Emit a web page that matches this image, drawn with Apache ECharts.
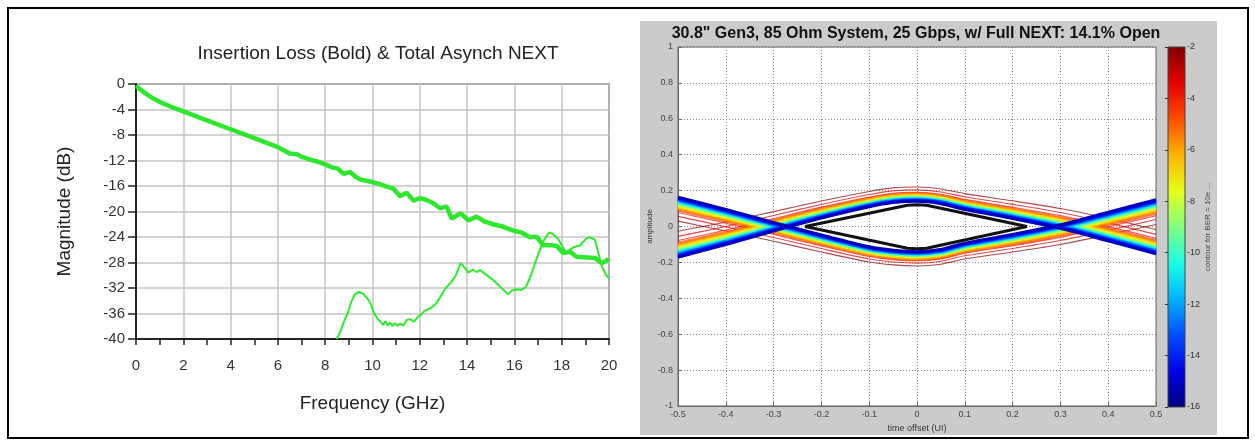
<!DOCTYPE html>
<html><head><meta charset="utf-8">
<script src="https://cdn.jsdelivr.net/npm/echarts@6/dist/echarts.min.js"></script>
<style>html,body{margin:0;padding:0;background:#fff}#c{width:1255px;height:445px}</style>
</head><body><div id="c"></div>
<script>
// ---------- Left chart data ----------
const ilFreq = [0,0.3,0.6,1.0,1.5,2.0,2.5,3.0,3.5,4.0,4.5,5.0,5.5,6.0,6.3,6.5,6.8,7.0,7.4,7.7,8.0,8.3,8.5,8.8,9.05,9.3,9.5,9.89,10.32,10.6,10.88,11.16,11.45,11.73,12.01,12.29,12.57,12.85,13.13,13.35,13.73,14.05,14.4,14.76,15.1,15.53,15.95,16.3,16.66,16.94,17.22,17.57,17.79,18.07,18.35,18.63,19.06,19.41,19.69,20.0];
const ilDb   = [-0.3,-1.2,-2.0,-2.8,-3.6,-4.3,-5.0,-5.7,-6.4,-7.1,-7.8,-8.5,-9.2,-9.9,-10.5,-10.9,-11.0,-11.4,-11.9,-12.2,-12.6,-13.1,-13.2,-14.1,-13.8,-14.6,-15.0,-15.3,-15.7,-16.1,-16.4,-17.6,-17.05,-18.3,-17.9,-18.2,-18.7,-19.5,-19.2,-21.1,-20.3,-21.4,-20.8,-21.6,-22.0,-22.4,-23.0,-23.3,-24.05,-23.95,-25.3,-25.3,-25.4,-26.5,-26.3,-27.1,-27.2,-27.3,-28.1,-27.5];
const nextFreq = [8.49,8.65,8.8,8.95,9.1,9.25,9.42,9.6,9.75,9.89,10.05,10.2,10.32,10.45,10.55,10.65,10.75,10.85,10.95,11.05,11.16,11.3,11.45,11.6,11.75,11.9,12.0,12.2,12.45,12.7,12.9,13.1,13.3,13.5,13.73,13.9,14.05,14.25,14.4,14.55,14.8,15.1,15.4,15.74,15.9,16.1,16.3,16.5,16.7,16.94,17.2,17.46,17.65,17.85,18.05,18.2,18.35,18.5,18.78,19.0,19.15,19.4,19.55,19.7,19.85,20.0];
const nextDb   = [-40,-38.8,-37.2,-36.0,-34.2,-33.0,-32.6,-32.9,-33.5,-34.2,-35.8,-36.8,-37.2,-37.8,-37.2,-37.9,-37.4,-38.0,-37.5,-37.9,-37.6,-37.9,-37.0,-36.9,-37.3,-36.6,-36.3,-35.6,-35.2,-34.4,-33.2,-32.0,-31.2,-30.2,-28.1,-28.8,-29.6,-29.1,-29.5,-29.2,-29.9,-30.75,-31.8,-33.0,-32.4,-32.2,-32.3,-31.8,-30.0,-27.4,-24.8,-23.3,-23.6,-24.3,-25.6,-26.5,-26.0,-25.6,-25.3,-24.4,-24.0,-24.4,-26.5,-28.6,-29.8,-30.5];

// ---------- Right chart (eye contour) data ----------
const eyeT      = [-0.5,-0.4,-0.3,-0.2,-0.1,-0.05,0,0.05,0.1,0.2,0.3,0.4,0.5];
const eyeTrajA  = [0.163,0.095,0.023,-0.047,-0.113,-0.132,-0.140,-0.128,-0.093,-0.044,0.010,0.079,0.149];   // innermost contour, starts high
const eyeTrajB  = [-0.171,-0.100,-0.025,0.047,0.110,0.133,0.140,0.127,0.095,0.045,-0.010,-0.080,-0.152];  // innermost contour, starts low
const bandA     = [0.133,0.12,0.105,0.095,0.085,0.082,0.080,0.082,0.088,0.098,0.11,0.125,0.138];
const bandB     = [0.145,0.125,0.108,0.095,0.085,0.082,0.080,0.082,0.088,0.098,0.11,0.125,0.135];
const berLevels = [-16,-15,-14,-13,-12,-11,-10,-9,-8,-7,-6,-5,-4,-3,-2];
const berFrac   = [0,0.04,0.08,0.12,0.16,0.20,0.24,0.29,0.34,0.40,0.46,0.53,0.64,0.80,1.0];
const innerEyeT = [-0.234,-0.02,0,0.02,0.23,0.02,0,-0.02,-0.234];
const innerEyeA = [0,0.118,0.121,0.118,0,-0.121,-0.124,-0.121,0];
const cbarTicks = [-2,-4,-6,-8,-10,-12,-14,-16];

function jet(v){
  const c = x => Math.max(0, Math.min(1, x));
  const r = c(1.5 - Math.abs(4*v - 3)), g = c(1.5 - Math.abs(4*v - 2)), b = c(1.5 - Math.abs(4*v - 1));
  return 'rgb(' + Math.round(r*255) + ',' + Math.round(g*255) + ',' + Math.round(b*255) + ')';
}

const FONT = 'Liberation Sans, Arial, sans-serif';
const series = [];
series.push({type:'line', xAxisIndex:0, yAxisIndex:0, showSymbol:false, silent:true,
  data: nextFreq.map((f,i)=>[f,nextDb[i]]), lineStyle:{color:'#30e830', width:2}});
series.push({type:'line', xAxisIndex:0, yAxisIndex:0, showSymbol:false, silent:true,
  data: ilFreq.map((f,i)=>[f,ilDb[i]]), lineStyle:{color:'#2ee62e', width:4.5}});

// eye contour lines: outer (red) first, innermost (blue) last
for (let k = berLevels.length - 1; k >= 0; k--) {
  const lvl = berLevels[k];
  const v = (lvl + 16) / 14;
  const col = jet(0.06 + v * 0.94);
  const w = lvl <= -15 ? 3 : (lvl <= -5 ? 3.4 : 1.1);
  const op = lvl > -5 ? 0.7 : (lvl > -12 ? 0.75 : 1);
  const dA = eyeT.map((t,i)=>[t, eyeTrajA[i] - berFrac[k]*bandA[i]]);
  const dB = eyeT.map((t,i)=>[t, eyeTrajB[i] + berFrac[k]*bandB[i]]);
  [dA, dB].forEach(d => series.push({type:'line', xAxisIndex:1, yAxisIndex:1, showSymbol:false, silent:true,
    smooth:0.25, data:d, lineStyle:{color:col, width:w, opacity:op}}));
}
series.push({type:'line', xAxisIndex:1, yAxisIndex:1, showSymbol:false, silent:true,
  data: innerEyeT.map((t,i)=>[t, innerEyeA[i]]), lineStyle:{color:'#111', width:3}});

// colorbar gradient
const stops = [];
for (let i = 0; i <= 10; i++) stops.push({offset:i/10, color: jet(1 - i/10)});

const chart = echarts.init(document.getElementById('c'), null, {renderer:'canvas'});
chart.setOption({
  animation:false,
  backgroundColor:'#fff',
  graphic:[
    {type:'rect', z:-10, shape:{x:640, y:21, width:577, height:414}, style:{fill:'#cbcbcb'}},
    {type:'rect', z:100, shape:{x:8, y:8, width:1240, height:430}, style:{fill:'none', stroke:'#000', lineWidth:2}},
    {type:'text', z:100, x:378, y:54, style:{text:'Insertion Loss (Bold) & Total Asynch NEXT', font:'19px ' + FONT, fill:'#222', textAlign:'center', textVerticalAlign:'middle', verticalAlign:'middle'}},
    {type:'text', z:100, x:916, y:34, style:{text:'30.8" Gen3, 85 Ohm System, 25 Gbps, w/ Full NEXT: 14.1% Open', font:'bold 16px ' + FONT, fill:'#111', textAlign:'center', textVerticalAlign:'middle', verticalAlign:'middle'}}
  ],
  grid:[
    {left:136, top:84, width:473, height:255, show:true, borderColor:'#444', borderWidth:1.5, backgroundColor:'#fff'},
    {left:678, top:47, width:478, height:359, show:true, borderColor:'#666', borderWidth:1, backgroundColor:'#fff'},
    {left:1168, top:47, width:17, height:360, show:true, borderColor:'#444', borderWidth:1,
      backgroundColor:{type:'linear', x:0, y:0, x2:0, y2:1, colorStops:stops}}
  ],
  xAxis:[
    {type:'value', gridIndex:0, min:0, max:20, interval:2,
      name:'Frequency (GHz)', nameLocation:'middle', nameGap:55, nameTextStyle:{fontFamily:FONT, fontSize:19, color:'#222'},
      axisLine:{onZero:false, lineStyle:{color:'#222', width:2}}, axisTick:{length:6, lineStyle:{color:'#222', width:1.5}},
      minorTick:{show:true, splitNumber:2, length:6, lineStyle:{color:'#222', width:1.5}},
      axisLabel:{fontFamily:FONT, fontSize:15, color:'#333', margin:19},
      splitLine:{show:true, lineStyle:{color:'#c4c4c4', width:1.5}}},
    {type:'value', gridIndex:1, min:-0.5, max:0.5, interval:0.1,
      name:'time offset (UI)', nameLocation:'middle', nameGap:13, nameTextStyle:{fontFamily:FONT, fontSize:9, color:'#333'},
      axisLine:{onZero:false, lineStyle:{color:'#666'}}, axisTick:{inside:true, length:4, lineStyle:{color:'#666'}},
      axisLabel:{fontFamily:FONT, fontSize:9, color:'#444', margin:4},
      splitLine:{show:true, lineStyle:{color:'#8a8a8a', width:1, type:[1,2]}}},
    {type:'value', gridIndex:2, min:0, max:1, show:false}
  ],
  yAxis:[
    {type:'value', gridIndex:0, min:-40, max:0, interval:4,
      name:'Magnitude (dB)', nameLocation:'middle', nameGap:62, nameRotate:90, nameTextStyle:{fontFamily:FONT, fontSize:19, color:'#222'},
      axisLine:{onZero:false, lineStyle:{color:'#222', width:2}}, axisTick:{length:8, lineStyle:{color:'#222', width:1.5}},
      axisLabel:{fontFamily:FONT, fontSize:15, color:'#333', margin:11},
      splitLine:{show:true, lineStyle:{color:'#c4c4c4', width:1.5}}},
    {type:'value', gridIndex:1, min:-1, max:1, interval:0.2,
      name:'amplitude', nameLocation:'middle', nameGap:24, nameRotate:90, nameTextStyle:{fontFamily:FONT, fontSize:8, color:'#333'},
      axisLine:{onZero:false, lineStyle:{color:'#666'}}, axisTick:{inside:true, length:4, lineStyle:{color:'#666'}},
      axisLabel:{fontFamily:FONT, fontSize:9, color:'#444', margin:5},
      splitLine:{show:true, lineStyle:{color:'#8a8a8a', width:1, type:[1,2]}}},
    {type:'value', gridIndex:2, min:-16, max:-2, interval:2, position:'right',
      name:'contour for BER = 10e ...', nameLocation:'middle', nameGap:18, nameRotate:90, nameTextStyle:{fontFamily:FONT, fontSize:8, color:'#444'},
      axisLine:{show:false}, axisTick:{show:true, inside:true, length:3, lineStyle:{color:'#333'}},
      axisLabel:{fontFamily:FONT, fontSize:9, color:'#333', margin:2, formatter: v => cbarTicks.includes(v) ? String(v) : ''},
      splitLine:{show:false}}
  ],
  series: series
});
</script></body></html>
